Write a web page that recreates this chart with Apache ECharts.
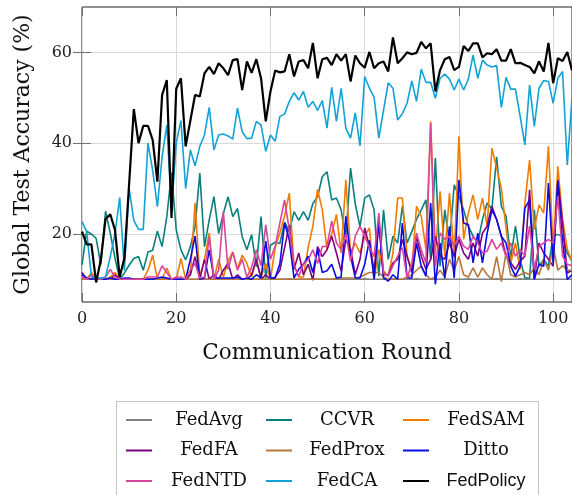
<!DOCTYPE html>
<html>
<head>
<meta charset="utf-8">
<script src="https://cdn.jsdelivr.net/npm/echarts@6/dist/echarts.min.js"></script>
<style>html,body{margin:0;padding:0;background:#fff}#c{width:572px;height:495px}</style>
</head>
<body>
<div id="c"></div>
<script>
const xTicks = [0, 20, 40, 60, 80, 100];
const yTicks = [20, 40, 60];

const FedAvg = [10.2,10,10,10.1,10,10,10,10.1,10,10,
 10,10.1,10,10,10,10,10.1,10,10,10,
 10,10,10.1,10,10,10,10,10.1,10,10,
 10,10,10,10.1,10,10,10,10,10.1,10,
 10,10,10,10,10.1,10,10,10,10,10.1,
 10,10,10,10,10,10.1,10,10,10,10,
 10.1,10,10,10,10,10,10.1,10,10,10,
 10,10.1,10,10,10,10,10,10.1,10,10,
 10,10,10.1,10,10,10,10,10,10.1,10,
 10,10,10,10.1,10,10,10,10,10,10.1,
 10,10,10,10,10];

const CCVR = [13.2,20.6,20,19,13.2,25,20.2,14.7,10,11.4,
 13.1,14.6,15,12,16,16.4,20.6,17.2,23.8,33.5,
 20.9,16.5,14.3,17.2,21.6,33.4,17.2,23.1,28.2,20.1,
 24.5,28.2,23.8,25.6,19.4,16.5,19.8,12.8,23.8,10.2,
 17.5,18.2,17.9,22.6,20.5,24.9,23,24.9,23,26.7,
 28.2,32.6,33.7,27.5,27.9,25.3,19.2,34.5,26.6,21.6,
 27.9,28.6,25.3,10.7,25.3,14.4,19.5,18,26.1,18,
 20.5,23.2,25.3,27.5,14.4,36.7,12.9,25.3,18,30.8,
 28.3,25.3,21.7,19.5,18,23.2,26.8,25.5,37,26.1,
 23.9,14.7,21.7,14.4,10.3,10.3,25.3,12.9,14.4,12.9,
 19.5,19.9,19.5,15.8,14];

const FedSAM = [10,10,11.5,10,10,10,10.5,11.5,10,10,
 10,10,10,10,12,15.3,10,10,12.5,10,
 10,14.6,10,11,26.8,10.5,14.4,20.2,10,14.4,
 10.5,14,16,12.3,15.3,13.5,10.5,14.3,10.5,13.5,
 10,17,20.2,24,29,13,10.5,10.5,17,21.7,
 29.8,25.3,16.6,20,24.3,15.8,31.9,15.8,18,15.8,
 19.5,21.3,10,16.6,11.8,10.7,15.8,27.9,27.9,15.1,
 12.2,26.1,23.9,16.6,44.8,15.8,29.4,15.1,29,14.7,
 41.5,18.8,24.6,28.6,23.2,27.9,21.7,38.9,34.5,30.1,
 21.3,13.6,18,12.2,26.8,36.3,21,26.4,24.6,39.3,
 16.6,34.9,23.2,16.6,14];

const FedFA = [11.5,10,10,10,10,10,10,11,10,10,
 10,10,10,10,10,10,10,10,10,10,
 10,10,10,11,15,10,14.4,10,11,10,
 12,13.5,10,11,10,10,11,14.4,10,11,
 10,10.5,12,17,22,12.2,15.8,11,13.3,9.8,
 17.2,15,16.5,19.5,15.8,11.8,18.8,16.6,11,14.4,
 21.3,17.2,12,22.4,11,11,13.6,14.4,18.8,15.1,
 11.5,19.5,15.1,12.2,14.4,19.5,15.1,14.4,18,15.1,
 18.8,15.8,14.4,18,15.1,20.2,21.7,26.1,23.2,19.5,
 15.1,13.6,12.2,14,15.1,29.7,10,18,15.8,14.4,
 12.9,31.9,22.4,11.4,12];

const FedProx = [10,10,10,10,10,10,10,10.2,10,10,
 10,10,10,10,10,10,10,10,10,10,
 10,10,10,10,10,10,10,10,10,10,
 10,10,10,10,10,10,10,10,10,10,
 10,10,10,10,10,10,10,10,10,10,
 10,10,10,10,10.2,10.3,10.3,10.3,10.3,10.5,
 11,11.5,11.5,11.5,10.5,10,10,10,10,10.5,
 11,12,12.9,11,10,10.5,12,10.5,14.4,12,
 15,11,10.5,12.5,10.5,12.5,11,10,15,9.5,
 15.8,11,10.5,11,11.5,11,12.5,11,14.4,12,
 17.3,12,13,12,12];

const Ditto = [11,10.3,10,10.2,10,10,10.3,10,10,10.3,
 10.3,10,10,10,10,10,10.3,10.5,10.3,10,
 10,10,10,14.4,19.5,10,10.3,16.5,10.3,10.3,
 10.3,10.3,10.3,10.5,10,10.3,10,11,10.3,18.4,
 10.3,10.3,13.4,22.4,18.7,10.3,12.2,13.3,15.1,11.5,
 16.6,11.5,11.9,13.3,10.3,10.5,23.9,15.1,10.3,10.3,
 13.3,18.6,10,22.8,10.3,9.6,11,10,22.4,10.3,
 10.3,18,12.9,10.7,26.8,8.9,18,10.3,21.7,10.3,
 31.9,22.4,22,13.6,20.2,13.6,20.2,25.3,23.2,19.5,
 18,12.9,10.7,12.9,25.7,27.5,10,13.3,12.9,31.2,
 13.6,31.6,18,10,11];

const FedNTD = [10.5,10,11,10,10,10.5,12.2,10.5,10,10,
 10,10,10,10,10.5,10.5,10.5,13,11.5,10,
 10.5,10.5,10,12,13.5,10.3,10.5,19.4,10,12,
 24.9,12.2,16,12,14.4,10.5,12.7,16.5,13,22,
 14.4,17.3,22.4,27.5,20.9,13.2,10.6,13.5,14.3,16.5,
 13.5,17.2,17.3,22.8,18,16.6,20,14,19.5,21.7,
 19.5,17,15,24.6,11.4,10.7,13,15.1,17,10.3,
 13.5,20.2,16.5,13.6,44.4,12.9,20.2,18.8,19.5,17.3,
 19.5,17.3,16.6,19.5,18,15.8,16.2,18.8,16.6,18,
 15.1,18,15.1,16.6,15.1,21.7,12.2,17.3,18,18.8,
 18,28.3,15.1,13.3,13];

const FedCA = [22.7,20.5,10.5,10.3,10.3,10.5,15,20,28,12,
 30,23,21,21,40,34,26,37,44,25,
 40,45,30,38.5,35,39.3,41.8,47.9,38.5,41.8,
 42,41.6,40.9,47.7,42.5,41,41.1,44.8,44,38.2,
 41.8,40.4,45.9,46.4,49.2,51.1,49.5,51.4,47.9,49.2,
 47.2,49.4,43.3,52.3,44.8,52.1,43.3,41.1,46.7,39.4,
 54.7,52.1,50.1,41.1,47.3,53.3,52.1,45.1,46.5,48.8,
 53.7,49.2,56.3,53.4,53.4,49.9,54.3,55.2,54.1,51.7,
 54.1,51.7,54.1,59.4,54.3,58.3,57.2,56.8,57.1,47.9,
 54.5,51.9,51.9,45.9,39.6,52.8,43.7,52.1,53.8,53.6,
 48.8,54.3,55.8,35.2,50];

const FedPolicy = [20.5,17.7,17.7,9.3,14.3,23.3,24.3,20.9,10.5,14.7,
 31,47.5,40,43.8,43.8,40.7,31.5,50.6,53.9,23.5,
 52,54.3,39.3,45,50.6,50.3,55.4,56.8,55.2,57.6,
 56.5,55,58.3,58.5,51.7,58,55.5,58.5,54.3,44.8,
 51.4,56,55.6,55.8,59.6,54.7,58,58.3,56.5,62.1,
 54.3,58.5,58.8,57.2,59.6,58.2,59.6,53.6,59.3,57.6,
 56.6,60.1,56.5,57.6,58,55.8,63.3,57.6,58.7,60,
 59.6,59.9,62.3,60.9,62,51.4,56.1,58.5,59,56.1,
 56.8,61.4,60.3,62,62,58.9,59.8,59.6,60.7,58.2,
 58.2,60.7,57.6,57.7,57.2,56.8,55.4,58,55.8,62.1,
 53.2,58.7,58.1,60.1,56];

const seriesNames = ['FedAvg','CCVR','FedSAM','FedFA','FedProx','Ditto','FedNTD','FedCA','FedPolicy'];
const seriesValues = [FedAvg, CCVR, FedSAM, FedFA, FedProx, Ditto, FedNTD, FedCA, FedPolicy];
const seriesColors = ['#808080','#0b7f7f','#f07c00','#800080','#b5773d','#0a0ae6','#d9459b','#12a2d6','#000000'];

const serif = 'DejaVu Serif';
const chart = echarts.init(document.getElementById('c'), null, {renderer:'canvas'});

const tickStyle = {show:true, inside:true, length:9, lineStyle:{color:'#707070', width:1}};

// legend layout: 3 columns x 3 rows, row-major in series order
const colLeft = [126, 266, 403];
const colTextW = [104, 100, 104];
const rowTop = [411, 441.5, 472];

const legends = seriesNames.map((name, k) => {
  const col = k % 3, row = Math.floor(k / 3);
  const key = name === 'FedPolicy' ? 's' : 'r';
  return {
    data: [name], left: colLeft[col], top: rowTop[row], orient: 'horizontal',
    icon: 'rect', itemWidth: 26, itemHeight: 2, itemGap: 0, padding: 0,
    formatter: n => '{' + key + '|' + n + '}',
    textStyle: {color:'#111', rich: {
      r: {fontFamily: serif, fontSize: 18, width: colTextW[col], align:'center', color:'#111'},
      s: {fontFamily: 'Liberation Sans', fontSize: 18, width: colTextW[col], align:'center', color:'#111'}
    }}
  };
});

const option = {
  animation: false,
  backgroundColor: '#ffffff',
  grid: {left:82, top:7, width:492, height:295, show:true, borderColor:'#222', borderWidth:1, backgroundColor:'transparent'},
  xAxis: [
    {type:'value', min:0, max:104, interval:20, position:'bottom',
     name:'Communication Round', nameLocation:'middle', nameGap:40,
     nameTextStyle:{fontFamily:serif, fontSize:21.5, color:'#111'},
     axisLine:{show:false}, axisTick:Object.assign({}, tickStyle, {customValues: xTicks}),
     axisLabel:{fontFamily:serif, fontSize:16, color:'#222', margin:9, customValues: xTicks},
     splitLine:{show:true, lineStyle:{color:'#d9d9d9', width:1}}},
    {type:'value', min:0, max:104, interval:20, position:'top',
     axisLine:{show:false}, axisTick:Object.assign({}, tickStyle, {customValues: xTicks}),
     axisLabel:{show:false}, splitLine:{show:false}}
  ],
  yAxis: [
    {type:'value', min:5, max:70, position:'left',
     name:'Global Test Accuracy (%)', nameLocation:'middle', nameGap:48,
     nameTextStyle:{fontFamily:serif, fontSize:22, color:'#111'},
     axisLine:{show:false},
     axisTick:Object.assign({}, tickStyle, {customValues: yTicks}),
     axisLabel:{fontFamily:serif, fontSize:16, color:'#222', margin:10, customValues: yTicks},
     splitLine:{show:true, lineStyle:{color:'#d9d9d9', width:1}}},
    {type:'value', min:5, max:70, position:'right',
     axisLine:{show:false},
     axisTick:Object.assign({}, tickStyle, {customValues: yTicks}),
     axisLabel:{show:false}, splitLine:{show:false}}
  ],
  legend: legends,
  graphic: [{type:'rect', shape:{x:116.5, y:401.5, width:422, height:120},
    style:{fill:'none', stroke:'#c4c4c4', lineWidth:1}, z:0}],
  series: seriesNames.map((name, k) => ({
    name: name, type:'line', xAxisIndex:0, yAxisIndex:0,
    data: seriesValues[k].map((v, i) => [i, v]),
    symbol:'none', showSymbol:false, clip:true,
    lineStyle:{color: seriesColors[k], width: name === 'FedPolicy' ? 2.2 : 1.6},
    itemStyle:{color: seriesColors[k]},
    z: 2 + k
  }))
};
chart.setOption(option);
</script>
</body>
</html>
